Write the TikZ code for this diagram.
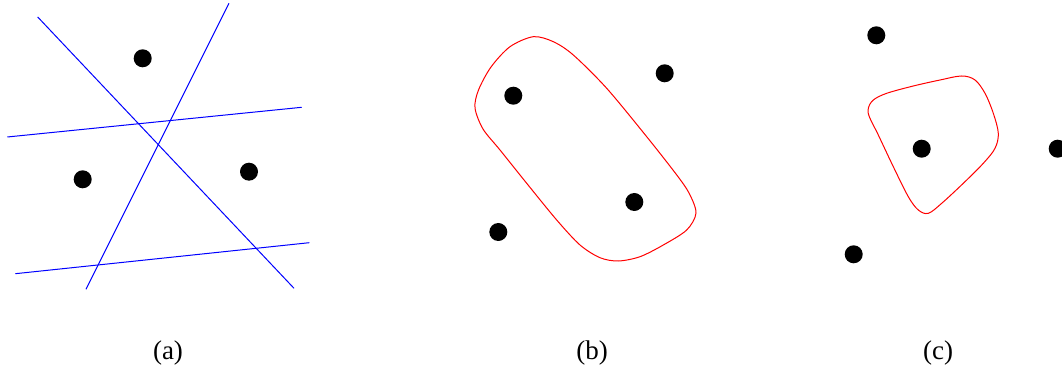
\documentclass[tikz,border=0pt]{standalone}
\usepackage{fontspec}
\setmainfont{Liberation Serif}
\begin{document}
\begin{tikzpicture}[x=1pt,y=-1pt,
  dot/.style={circle,fill=black,inner sep=0pt,minimum size=18pt},
  sepline/.style={blue,line width=1pt},
  region/.style={red,line width=1pt},
  caption/.style={anchor=base,font=\fontsize{27}{30}\selectfont,inner sep=0pt}]
\useasboundingbox (0,0) rectangle (1062,371);
% panel (a)
\node[dot] (a1) at (142.7,58.3) {};
\node[dot] (a2) at (82.7,179.3) {};
\node[dot] (a3) at (249,171.7) {};
\coordinate (l1s) at (37.7,17);   \coordinate (l1e) at (294,288.3);
\coordinate (l2s) at (229,3.3);   \coordinate (l2e) at (86,289.3);
\coordinate (l3s) at (7.3,137);   \coordinate (l3e) at (301.7,107.3);
\coordinate (l4s) at (15.3,273.7);\coordinate (l4e) at (309.3,242.7);
\draw[sepline] (l1s) -- (l1e);
\draw[sepline] (l2s) -- (l2e);
\draw[sepline] (l3s) -- (l3e);
\draw[sepline] (l4s) -- (l4e);
% panel (b)
\node[dot] (b1) at (513.3,95.7) {};
\node[dot] (b2) at (664.7,73.3) {};
\node[dot] (b3) at (634.3,202) {};
\node[dot] (b4) at (498.3,232) {};
\draw[region] plot[smooth cycle,tension=0.5] coordinates {
  (533.3,36.7) (510,46.7) (491,67) (478.5,90) (475,108)
  (483,129) (500,150) (526.7,183.3) (556.7,220) (580,245) (600,257.7)
  (618.3,261) (640,256.7) (663.3,245) (686.7,230) (696,213)
  (689,193) (676,174) (646.7,136.7) (606.7,88.3) (573.3,55) (553.3,41.7)};
% panel (c)
\node[dot] (c1) at (876.3,35.3) {};
\node[dot] (c2) at (921.7,148.7) {};
\node[dot] (c3) at (1057.7,148.7) {};
\node[dot] (c4) at (853.7,254.3) {};
\draw[region] plot[smooth cycle,tension=0.55] coordinates {
  (868.3,108.3) (873.3,100) (886.7,93.3) (913.3,86) (940,80) (961.7,76)
  (975,80) (985,93.3) (993.3,113.3) (998.3,133.3) (995,148.3) (983.3,163.3)
  (963.3,183.3) (941.7,203.3) (928.3,213.3) (918.3,210) (908.3,196.7)
  (893.3,166.7) (878.3,135) (869.3,116.7)};
% captions
\node[caption] (capa) at (168,359) {(a)};
\node[caption] (capb) at (592,359) {(b)};
\node[caption] (capc) at (938,359) {(c)};
\end{tikzpicture}
\end{document}
